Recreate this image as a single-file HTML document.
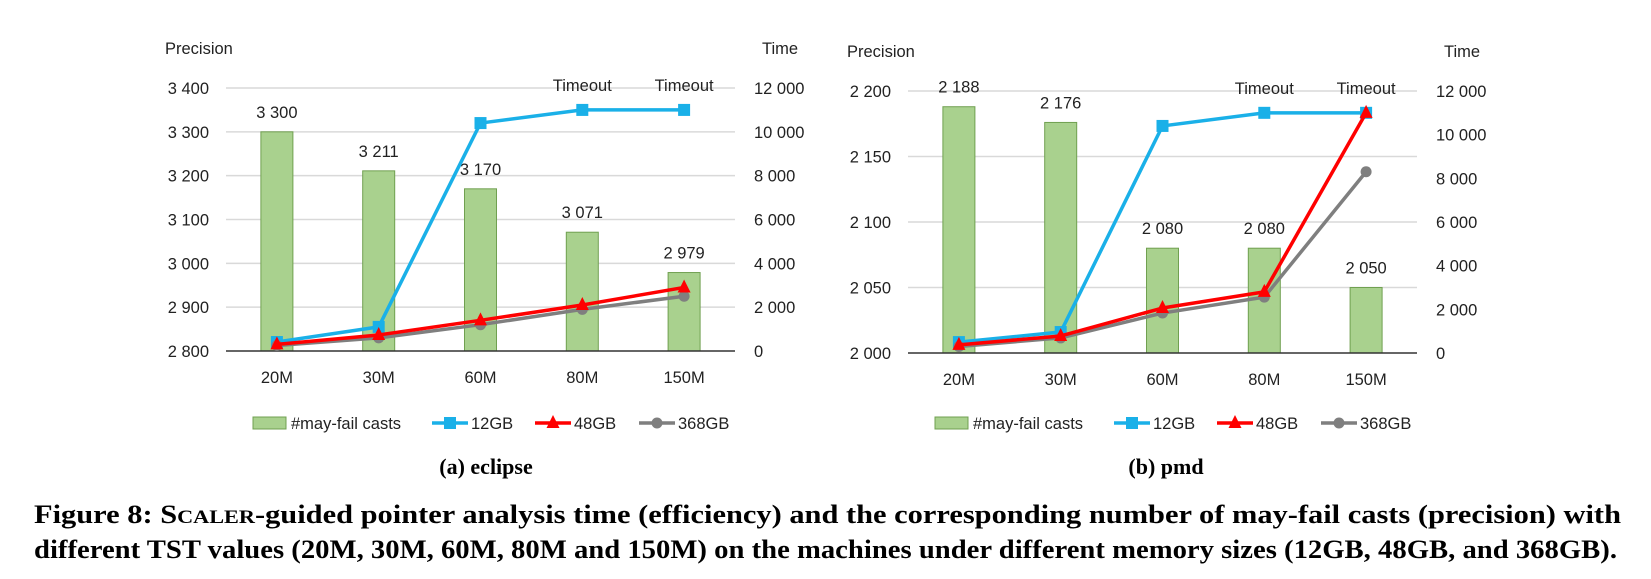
<!DOCTYPE html>
<html><head><meta charset="utf-8">
<style>
html,body{margin:0;padding:0;background:#fff;width:1651px;height:579px;overflow:hidden}
svg text{font-family:"Liberation Sans",sans-serif}
</style></head>
<body>
<svg id="fig" width="1651" height="579" viewBox="0 0 1651 579" xmlns="http://www.w3.org/2000/svg">
<g id="chartA"></g>
<g id="chartB"></g>
<text x="486" y="474" text-anchor="middle" style="font-family:'Liberation Serif',serif;font-weight:bold;font-size:22px">(a) eclipse</text>
<text x="1166" y="474" text-anchor="middle" style="font-family:'Liberation Serif',serif;font-weight:bold;font-size:22px">(b) pmd</text>
<text x="34" y="523" textLength="1587" lengthAdjust="spacingAndGlyphs" style="font-family:'Liberation Serif',serif;font-weight:bold;font-size:26px">Figure 8: S<tspan font-size="19">CALER</tspan>-guided pointer analysis time (efficiency) and the corresponding number of may-fail casts (precision) with</text>
<text x="34" y="558" textLength="1583" lengthAdjust="spacingAndGlyphs" style="font-family:'Liberation Serif',serif;font-weight:bold;font-size:26px">different TST values (20M, 30M, 60M, 80M and 150M) on the machines under different memory sizes (12GB, 48GB, and 368GB).</text>
</svg>
<script>
const categories = ["20M","30M","60M","80M","150M"];
const eclipsePrecision = [3300,3211,3170,3071,2979];
const eclipse12GB = [410,1100,10400,11000,11000];
const eclipse48GB = [300,730,1400,2100,2900];
const eclipse368GB = [250,600,1200,1900,2500];
const eclipseLeftTicks = [2800,2900,3000,3100,3200,3300,3400];
const pmdPrecision = [2188,2176,2080,2080,2050];
const pmd12GB = [500,960,10400,11000,11000];
const pmd48GB = [370,780,2060,2800,11000];
const pmd368GB = [300,690,1830,2560,8300];
const pmdLeftTicks = [2000,2050,2100,2150,2200];
const timeTicks = [0,2000,4000,6000,8000,10000,12000];
const eclipseTimeout = [false,false,false,true,true];
const pmdTimeout = [false,false,false,true,true];

const NS="http://www.w3.org/2000/svg";
function mk(parent,tag,attrs,txt){const e=document.createElementNS(NS,tag);for(const k in attrs)e.setAttribute(k,attrs[k]);if(txt!==undefined)e.textContent=txt;parent.appendChild(e);return e;}
function fmt(v){return String(v).replace(/\B(?=(\d{3})+(?!\d))/g," ");}

function draw(g,cfg){
  const L=cfg.left,R=cfg.right,T=cfg.top,B=cfg.bottom;
  const lmin=cfg.lticks[0],lmax=cfg.lticks[cfg.lticks.length-1];
  const yL=v=>B-(v-lmin)/(lmax-lmin)*(B-T);
  const yR=v=>B-v/12000*(B-T);
  const step=(R-L)/categories.length;
  const xC=i=>L+step*(i+0.5);
  const fs="font-size:16.5px;fill:#222";
  cfg.lticks.forEach(t=>{
    const y=yL(t);
    if(t!==lmin){const gl=mk(g,"line",{x1:L,x2:R,y1:y,y2:y,stroke:"#d9d9d9","stroke-width":1.5});
    
    }
    const tl=mk(g,"text",{x:L-17,y:y+6,"text-anchor":"end",style:fs},fmt(t));
    
    
  });
  timeTicks.forEach(t=>{
    const tl=mk(g,"text",{x:R+19,y:yR(t)+6,style:fs},fmt(t));
    
    
  });
  const pl=mk(g,"text",{x:L-61,y:T-34,style:fs},"Precision");
  
  
  const tt=mk(g,"text",{x:R+27,y:T-34,style:fs},"Time");
  
  
  cfg.prec.forEach((v,i)=>{
    const y=yL(v);
    const b=mk(g,"rect",{x:xC(i)-16,y:y,width:32,height:B-y,fill:"#a9d18e",stroke:"#70a050","stroke-width":1});
    
    
    const lb=mk(g,"text",{x:xC(i),y:y-14,"text-anchor":"middle",style:fs},fmt(v));
    
    
  });
  const ax=mk(g,"line",{x1:L,x2:R,y1:B,y2:B,stroke:"#333","stroke-width":1.5});
  
  
  categories.forEach((c,i)=>{
    const tl=mk(g,"text",{x:xC(i),y:B+32,"text-anchor":"middle",style:fs},c);
    
    
  });
  [[cfg.s12,"#1ab0e8","sq","series-12gb"],[cfg.s368,"#7f7f7f","circle","series-368gb"],[cfg.s48,"#ff0000","tri","series-48gb"]].forEach(([d,col,mkr,nm])=>{
    const pts=d.map((v,i)=>xC(i)+","+yR(v)).join(" ");
    const ln=mk(g,"polyline",{points:pts,fill:"none",stroke:col,"stroke-width":3.5,"stroke-linejoin":"round"});
    
    
    d.forEach((v,i)=>{
      const x=xC(i),y=yR(v);let m;
      if(mkr==="sq")m=mk(g,"rect",{x:x-6,y:y-6,width:12,height:12,fill:col});
      else if(mkr==="circle")m=mk(g,"circle",{cx:x,cy:y,r:5.5,fill:col});
      else m=mk(g,"polygon",{points:`${x},${y-8} ${x-6.5},${y+5} ${x+6.5},${y+5}`,fill:col});
      
      
    });
  });
  cfg.timeout.forEach((t,i)=>{
    if(!t)return;
    const tl=mk(g,"text",{x:xC(i),y:T+3,"text-anchor":"middle",style:fs},"Timeout");
    
    
  });
  const ly=cfg.legendY,lx=cfg.legendX;
  const sw=mk(g,"rect",{x:lx,y:ly-6,width:33,height:12,fill:"#a9d18e",stroke:"#70a050"});
  
  
  const t1=mk(g,"text",{x:lx+38,y:ly+6,style:fs},"#may-fail casts");
  
  
  [[179,"#1ab0e8","sq","12GB"],[282,"#ff0000","tri","48GB"],[386,"#7f7f7f","circle","368GB"]].forEach(([off,col,mkr,lab])=>{
    const x0=lx+off;
    const l=mk(g,"line",{x1:x0,x2:x0+36,y1:ly,y2:ly,stroke:col,"stroke-width":3.5});
    
    
    const cx=x0+18;let m;
    if(mkr==="sq")m=mk(g,"rect",{x:cx-6,y:ly-6,width:12,height:12,fill:col});
    else if(mkr==="circle")m=mk(g,"circle",{cx:cx,cy:ly,r:5.5,fill:col});
    else m=mk(g,"polygon",{points:`${cx},${ly-8} ${cx-6.5},${ly+5} ${cx+6.5},${ly+5}`,fill:col});
    
    
    const t=mk(g,"text",{x:x0+39,y:ly+6,style:fs},lab);
    
    
  });
}
draw(document.getElementById("chartA"),{left:226,right:735,top:88,bottom:351,lticks:eclipseLeftTicks,prec:eclipsePrecision,s12:eclipse12GB,s48:eclipse48GB,s368:eclipse368GB,timeout:eclipseTimeout,legendX:253,legendY:423});
draw(document.getElementById("chartB"),{left:908,right:1417,top:91,bottom:353,lticks:pmdLeftTicks,prec:pmdPrecision,s12:pmd12GB,s48:pmd48GB,s368:pmd368GB,timeout:pmdTimeout,legendX:935,legendY:423});
</script>
</body></html>
